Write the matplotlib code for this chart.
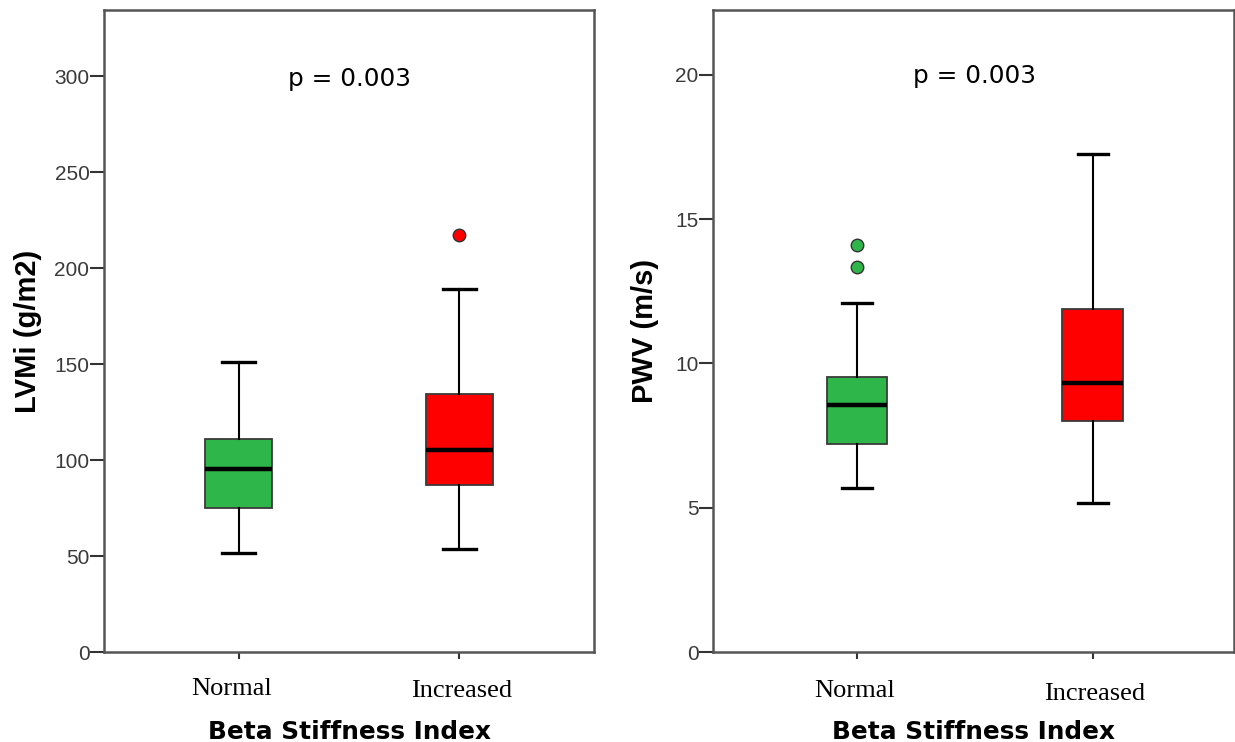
import matplotlib
matplotlib.use("Agg")
import matplotlib.pyplot as plt
from matplotlib.transforms import ScaledTranslation

# group labels and fills
groups = ["Normal", "Increased"]
fills = ["#2eb64a", "#ff0000"]

# LVMi (g/m2): whisker low, Q1, median, Q3, whisker high, outliers
lvmi_low = [51.5, 53.5]
lvmi_q1 = [74.8, 86.8]
lvmi_med = [95.3, 105.0]
lvmi_q3 = [110.8, 134.5]
lvmi_high = [151.0, 189.0]
lvmi_out = [[], [217.0]]

# PWV (m/s)
pwv_low = [5.69, 5.15]
pwv_q1 = [7.21, 7.99]
pwv_med = [8.56, 9.33]
pwv_q3 = [9.54, 11.89]
pwv_high = [12.10, 17.25]
pwv_out = [[14.10, 13.36], []]

p_text = "p = 0.003"
xlabel = "Beta Stiffness Index"

W, H = 1235, 742
fig = plt.figure(figsize=(W / 100, H / 100), dpi=100)


def px_axes(x0, x1, y0, y1):
    return fig.add_axes([x0 / W, (H - y1) / H, (x1 - x0) / W, (y1 - y0) / H])


def stats(low, q1, med, q3, high, out):
    return [dict(whislo=low[i], q1=q1[i], med=med[i], q3=q3[i], whishi=high[i],
                 fliers=out[i]) for i in range(len(low))]


def draw_panel(ax, st, width, ylim, yticks, ylabel, ptext_y, label_pos):
    bp = ax.bxp(st, positions=[1, 2], widths=width, patch_artist=True,
                capwidths=width * 0.5, manage_ticks=False,
                boxprops=dict(edgecolor="#3a3a3a", linewidth=1.3),
                whiskerprops=dict(color="black", linewidth=1.5),
                capprops=dict(color="black", linewidth=2.4),
                medianprops=dict(color="black", linewidth=3.2),
                flierprops=dict(marker="o", markersize=9, markeredgecolor="#333333",
                                markeredgewidth=1.0))
    for patch, c in zip(bp["boxes"], fills):
        patch.set_facecolor(c)
    for fl, c in zip(bp["fliers"], fills):
        fl.set_markerfacecolor(c)

    ax.set_xlim(0.39, 2.61)
    ax.set_ylim(*ylim)
    ax.set_yticks(yticks)
    ax.set_yticklabels([str(t) for t in yticks], fontfamily="Liberation Sans",
                       fontsize=15, color="#3a3a3a")
    ax.set_xticks([1, 2])
    ax.set_xticklabels([])
    # category names; dx shifts in px, baseline in px below the axis
    for i, (name, (dx, base)) in enumerate(zip(groups, label_pos)):
        tr = ax.get_xaxis_transform() + ScaledTranslation(dx / 100, -base / 100,
                                                          fig.dpi_scale_trans)
        ax.text(i + 1, 0, name, transform=tr, ha="center", va="baseline",
                fontfamily="Liberation Serif", fontsize=19)
    ax.tick_params(axis="y", direction="out", length=10, width=1.5, color="#333333", pad=0.5)
    ax.tick_params(axis="x", direction="out", length=5, width=1.5, color="#333333")
    for s in ax.spines.values():
        s.set_color("#555555")
        s.set_linewidth(1.8)
    ax.set_ylabel(ylabel, fontfamily="Liberation Sans", fontweight="bold", fontsize=21)
    ax.set_xlabel(xlabel, fontfamily="DejaVu Sans", fontweight="bold", fontsize=17.8)
    ax.xaxis.label.set_va("baseline")
    ax.xaxis.set_label_coords(0.5, -(739 - 652) / 642)
    ax.text(1.5, ptext_y, p_text, ha="center", va="center",
            fontfamily="DejaVu Sans", fontsize=17.8)


ax1 = px_axes(104, 594, 10, 652)
draw_panel(ax1, stats(lvmi_low, lvmi_q1, lvmi_med, lvmi_q3, lvmi_high, lvmi_out),
           0.302, (0, 334.4), [0, 50, 100, 150, 200, 250, 300], "LVMi (g/m2)", 298.5,
           [(-7, 43), (2, 45)])
ax1.yaxis.set_label_coords((42 - 104) / 490, 0.5)

ax2 = px_axes(713, 1234, 10, 652)
draw_panel(ax2, stats(pwv_low, pwv_q1, pwv_med, pwv_q3, pwv_high, pwv_out),
           0.255, (0, 22.25), [0, 5, 10, 15, 20], "PWV (m/s)", 19.95,
           [(-2, 45), (2, 48)])
ax2.set_xlim(0.39, 2.6)
ax2.yaxis.set_label_coords((659 - 713) / 521, 0.5)

fig.savefig("out.png", dpi=100)
